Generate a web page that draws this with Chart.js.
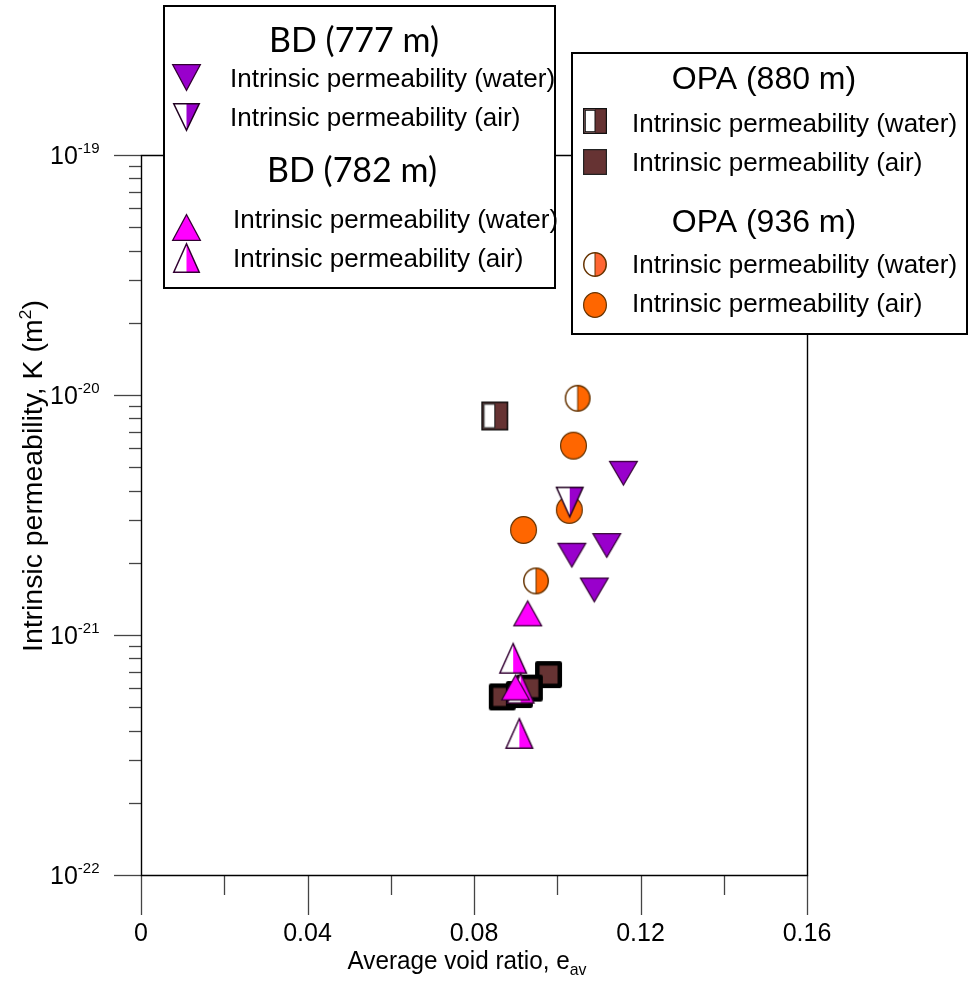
<!DOCTYPE html>
<html><head><meta charset="utf-8">
<script src="https://cdn.jsdelivr.net/npm/chart.js@4.4.1/dist/chart.umd.min.js"></script>
<style>html,body{margin:0;padding:0;background:#fff;overflow:hidden}canvas{display:block}</style>
</head><body>
<canvas id="c" width="971" height="985"></canvas>
<script>
// ---------- data ----------
const bd777WaterVoid = [0.1159, 0.1035, 0.1119, 0.1089];
const bd777WaterK    = [4.72e-21, 2.15e-21, 2.36e-21, 1.54e-21];
const bd777AirVoid   = [0.1030];
const bd777AirK      = [3.58e-21];
const bd782WaterVoid = [0.0929, 0.0900];
const bd782WaterK    = [1.23e-21, 6.04e-22];
const bd782AirVoid   = [0.0894, 0.0912, 0.0909];
const bd782AirK      = [8.0e-22, 6.0e-22, 3.89e-22];
const opa880WaterVoid = [0.0850];
const opa880WaterK    = [8.18e-21];
const opa880AirVoid   = [0.0979, 0.0868, 0.0909, 0.0933];
const opa880AirK      = [6.84e-22, 5.52e-22, 5.65e-22, 6.01e-22];
const opa936WaterVoid = [0.1049, 0.0949];
const opa936WaterK    = [9.69e-21, 1.68e-21];
const opa936AirVoid   = [0.1039, 0.1029, 0.0919];
const opa936AirK      = [6.15e-21, 3.32e-21, 2.74e-21];

const xMajorTicks = [0, 0.04, 0.08, 0.12, 0.16];
const xTickLabels = ['0', '0.04', '0.08', '0.12', '0.16'];
const xMinorTicks = [0.02, 0.06, 0.10, 0.14];
const yDecadeExponents = [-19, -20, -21, -22];

const xTitle = 'Average void ratio, e';
const xTitleSub = 'av';
const yTitle = 'Intrinsic permeability, K (m';
const legend1Title1 = 'BD (777 m)';
const legend1Title2 = 'BD (782 m)';
const legend2Title1 = 'OPA (880 m)';
const legend2Title2 = 'OPA (936 m)';
const labelWater = 'Intrinsic permeability (water)';
const labelAir = 'Intrinsic permeability (air)';

// ---------- colours ----------
const PURPLE = '#9900CC', MAGENTA = '#FF00FF', BROWN = '#663333', ORANGE = '#FF6600';

function pts(xs, ys) { return xs.map((x, i) => ({x: x, y: ys[i]})); }

// ---------- marker images ----------
function makeMarker(shape, w, h, fill, o) {
  o = o || {};
  const lw = o.lw || 1.2, pad = 3;
  const c = document.createElement('canvas');
  c.width = Math.ceil(w + 2 * pad); c.height = Math.ceil(h + 2 * pad);
  const g = c.getContext('2d');
  const ox = (c.width - w) / 2, oy = (c.height - h) / 2;
  const x0 = ox + lw / 2, y0 = oy + lw / 2, x1 = ox + w - lw / 2, y1 = oy + h - lw / 2;
  const cx = c.width / 2, cy = c.height / 2;
  const path = () => {
    g.beginPath();
    if (shape === 'triDown') { g.moveTo(x0, y0); g.lineTo(x1, y0); g.lineTo(cx, y1); g.closePath(); }
    else if (shape === 'triUp') { g.moveTo(cx, y0); g.lineTo(x1, y1); g.lineTo(x0, y1); g.closePath(); }
    else if (shape === 'square') { g.rect(x0, y0, x1 - x0, y1 - y0); }
    else { g.ellipse(cx, cy, (x1 - x0) / 2, (y1 - y0) / 2, 0, 0, Math.PI * 2); }
  };
  g.lineJoin = o.join || 'miter';
  if (o.half && shape !== 'square') {
    path(); g.fillStyle = '#fff'; g.fill();
    g.save(); g.beginPath(); g.rect(cx, 0, c.width, c.height); g.clip();
    path(); g.fillStyle = fill; g.fill(); g.restore();
    if (shape === 'circle') {
      g.beginPath(); g.moveTo(cx, y0); g.lineTo(cx, y1);
      g.strokeStyle = o.stroke || '#000'; g.lineWidth = 1; g.stroke();
    }
    path(); g.strokeStyle = o.stroke || '#000'; g.lineWidth = lw; g.stroke();
  } else {
    path(); g.fillStyle = fill; g.fill();
    g.strokeStyle = o.stroke || '#000'; g.lineWidth = lw; g.stroke();
    if (o.half && shape === 'square') {
      g.fillStyle = '#fff';
      g.fillRect(x0 + lw, y0 + lw, cx - (x0 + lw), y1 - y0 - 2 * lw);
      g.lineWidth = 1; g.strokeStyle = '#111';
      g.strokeRect(x0 + lw + 0.5, y0 + lw + 0.5, cx - (x0 + lw) - 0.5, y1 - y0 - 2 * lw - 1);
    }
  }
  return c;
}

const mk = {
  bd777Water: makeMarker('triDown', 29, 25, PURPLE, {stroke: '#330033', lw: 1.2}),
  bd777Air:   makeMarker('triDown', 28, 31, PURPLE, {stroke: '#220022', lw: 1.5, half: true}),
  bd782Water: makeMarker('triUp', 29, 26, MAGENTA, {stroke: '#330033', lw: 1.2}),
  bd782Air:   makeMarker('triUp', 28, 31, MAGENTA, {stroke: '#330033', lw: 1.5, half: true}),
  opa880Water: makeMarker('square', 27, 29, BROWN, {stroke: '#111', lw: 1.5, half: true}),
  opa880Air:   makeMarker('square', 27, 27, BROWN, {stroke: '#000', lw: 4.5, join: 'round'}),
  opa936Water: makeMarker('circle', 26, 27, ORANGE, {stroke: '#663300', lw: 1.5, half: true}),
  opa936Air:   makeMarker('circle', 27, 28, ORANGE, {stroke: '#663300', lw: 1.2})
};
const lg = {
  bd777Water: makeMarker('triDown', 29, 27, PURPLE, {stroke: '#330033', lw: 1.2}),
  bd777Air:   makeMarker('triDown', 27, 28, PURPLE, {stroke: '#220022', lw: 1.5, half: true}),
  bd782Water: makeMarker('triUp', 29, 27, MAGENTA, {stroke: '#330033', lw: 1.2}),
  bd782Air:   makeMarker('triUp', 27, 30, MAGENTA, {stroke: '#330033', lw: 1.5, half: true}),
  opa880Water: makeMarker('square', 24, 26, BROWN, {stroke: '#111', lw: 1.2, half: true}),
  opa880Air:   makeMarker('square', 24, 26, BROWN, {stroke: '#222', lw: 1.2}),
  opa936Water: makeMarker('circle', 24, 25, '#FF6633', {stroke: '#663300', lw: 1.5, half: true}),
  opa936Air:   makeMarker('circle', 24, 26, ORANGE, {stroke: '#663300', lw: 1.2})
};

const FONT = "'Liberation Sans', Arial, sans-serif";

// ---------- axes plugin ----------
const axesPlugin = {
  id: 'axesFrame',
  beforeDatasetsDraw(chart) {
    const g = chart.ctx, xs = chart.scales.x, ys = chart.scales.y, a = chart.chartArea;
    g.save();
    // ticks
    g.strokeStyle = '#444'; g.lineWidth = 1.3;
    for (let d = -22; d <= -19; d++) {
      const y = Math.round(ys.getPixelForValue(Math.pow(10, d))) + 0.5;
      g.beginPath(); g.moveTo(a.left - 27, y); g.lineTo(a.left, y); g.stroke();
      if (d < -19) {
        for (let m = 2; m <= 9; m++) {
          const ym = Math.round(ys.getPixelForValue(m * Math.pow(10, d))) + 0.5;
          g.beginPath(); g.moveTo(a.left - 12, ym); g.lineTo(a.left, ym); g.stroke();
        }
      }
    }
    xMajorTicks.forEach(v => {
      const x = Math.round(xs.getPixelForValue(v)) + 0.5;
      g.beginPath(); g.moveTo(x, a.bottom); g.lineTo(x, a.bottom + 40); g.stroke();
    });
    xMinorTicks.forEach(v => {
      const x = Math.round(xs.getPixelForValue(v)) + 0.5;
      g.beginPath(); g.moveTo(x, a.bottom); g.lineTo(x, a.bottom + 20); g.stroke();
    });
    // frame
    g.strokeStyle = '#000'; g.lineWidth = 1.4;
    g.beginPath();
    g.rect(Math.round(a.left) + 0.5, Math.round(a.top) + 0.5, Math.round(a.right - a.left), Math.round(a.bottom - a.top));
    g.stroke();
    // tick labels
    g.fillStyle = '#000';
    g.textBaseline = 'alphabetic';
    g.font = "25px " + FONT;
    g.textAlign = 'center';
    xMajorTicks.forEach((v, i) => {
      g.fillText(xTickLabels[i], xs.getPixelForValue(v), a.bottom + 66);
    });
    g.textAlign = 'left';
    yDecadeExponents.forEach(e => {
      const y = ys.getPixelForValue(Math.pow(10, e));
      g.font = "25px " + FONT;
      g.fillText('10', 50, y + 9);
      const w = g.measureText('10').width;
      g.font = "15px " + FONT;
      g.fillText(String(e), 50 + w, y - 2);
    });
    // x title (slightly condensed, like the reference)
    g.save();
    g.translate(467, 969);
    g.font = "26px " + FONT;
    const w1 = g.measureText(xTitle).width;
    g.font = "17px " + FONT;
    const w2 = g.measureText(xTitleSub).width;
    const sx = 239 / (w1 + w2);
    g.scale(sx, 1);
    const start = -(w1 + w2) / 2;
    g.font = "26px " + FONT;
    g.fillText(xTitle, start, 0);
    g.font = "17px " + FONT;
    g.fillText(xTitleSub, start + w1, 6);
    g.restore();
    // y title
    g.save();
    g.translate(42, 476);
    g.rotate(-Math.PI / 2);
    g.font = "27px " + FONT;
    const t1 = g.measureText(yTitle).width;
    g.font = "17px " + FONT;
    const t2 = g.measureText('2').width;
    g.font = "27px " + FONT;
    const t3 = g.measureText(')').width;
    const total = t1 + t2 + t3;
    g.scale(352 / total, 1);
    let px = -total / 2;
    g.fillText(yTitle, px, 0); px += t1;
    g.font = "17px " + FONT;
    g.fillText('2', px, -11); px += t2;
    g.font = "27px " + FONT;
    g.fillText(')', px, 0);
    g.restore();
    g.restore();
  }
};

// ---------- legend boxes plugin ----------
function drawImg(g, img, x, y) { g.drawImage(img, Math.round(x - img.width / 2), Math.round(y - img.height / 2)); }
const legendPlugin = {
  id: 'legendBoxes',
  afterDraw(chart) {
    const g = chart.ctx;
    g.save();
    // box 1
    g.fillStyle = '#fff'; g.fillRect(163, 5, 393, 284);
    g.strokeStyle = '#000'; g.lineWidth = 2; g.strokeRect(164, 6, 391, 282);
    // box 2
    g.fillStyle = '#fff'; g.fillRect(571, 52, 397, 283);
    g.strokeRect(572, 53, 395, 281);
    g.fillStyle = '#000';
    g.textBaseline = 'alphabetic';
    g.textAlign = 'center';
    g.font = "34px Lato, 'Open Sans', sans-serif";
    g.fillText(legend1Title1, 354, 52);
    g.fillText(legend1Title2, 352, 182);
    g.font = "32px " + FONT;
    g.fillText(legend2Title1, 764, 89);
    g.fillText(legend2Title2, 764, 232);
    g.textAlign = 'left';
    g.font = "26px " + FONT;
    g.fillText(labelWater, 230, 87);
    g.fillText(labelAir, 230, 126);
    g.fillText(labelWater, 233, 228);
    g.fillText(labelAir, 233, 267);
    g.fillText(labelWater, 632, 132);
    g.fillText(labelAir, 632, 171);
    g.fillText(labelWater, 632, 273);
    g.fillText(labelAir, 632, 312);
    drawImg(g, lg.bd777Water, 186, 77);
    drawImg(g, lg.bd777Air, 186, 117);
    drawImg(g, lg.bd782Water, 186, 227);
    drawImg(g, lg.bd782Air, 186, 258);
    drawImg(g, lg.opa880Water, 595, 121);
    drawImg(g, lg.opa880Air, 595, 162);
    drawImg(g, lg.opa936Water, 595, 264);
    drawImg(g, lg.opa936Air, 595, 305);
    g.restore();
  }
};

function ds(label, xs, ys, img) {
  return {label: label, data: pts(xs, ys), pointStyle: img, pointRadius: 14, clip: false,
          showLine: false, backgroundColor: 'transparent', borderColor: 'transparent'};
}

new Chart(document.getElementById('c').getContext('2d'), {
  type: 'scatter',
  data: {
    datasets: [
      ds('BD (782 m) water', bd782WaterVoid, bd782WaterK, mk.bd782Water),
      ds('BD (782 m) air', bd782AirVoid, bd782AirK, mk.bd782Air),
      ds('BD (777 m) air', bd777AirVoid, bd777AirK, mk.bd777Air),
      ds('BD (777 m) water', bd777WaterVoid, bd777WaterK, mk.bd777Water),
      ds('OPA (936 m) water', opa936WaterVoid, opa936WaterK, mk.opa936Water),
      ds('OPA (936 m) air', opa936AirVoid, opa936AirK, mk.opa936Air),
      ds('OPA (880 m) water', opa880WaterVoid, opa880WaterK, mk.opa880Water),
      ds('OPA (880 m) air', opa880AirVoid, opa880AirK, mk.opa880Air)
    ]
  },
  options: {
    responsive: false, animation: false, devicePixelRatio: 1, events: [],
    layout: {padding: {left: 141, right: 164, top: 155, bottom: 110}},
    scales: {
      x: {type: 'linear', min: 0, max: 0.16, display: false},
      y: {type: 'logarithmic', min: 1e-22, max: 1e-19, display: false}
    },
    plugins: {legend: {display: false}, tooltip: {enabled: false}}
  },
  plugins: [axesPlugin, legendPlugin]
});
</script>
</body></html>
